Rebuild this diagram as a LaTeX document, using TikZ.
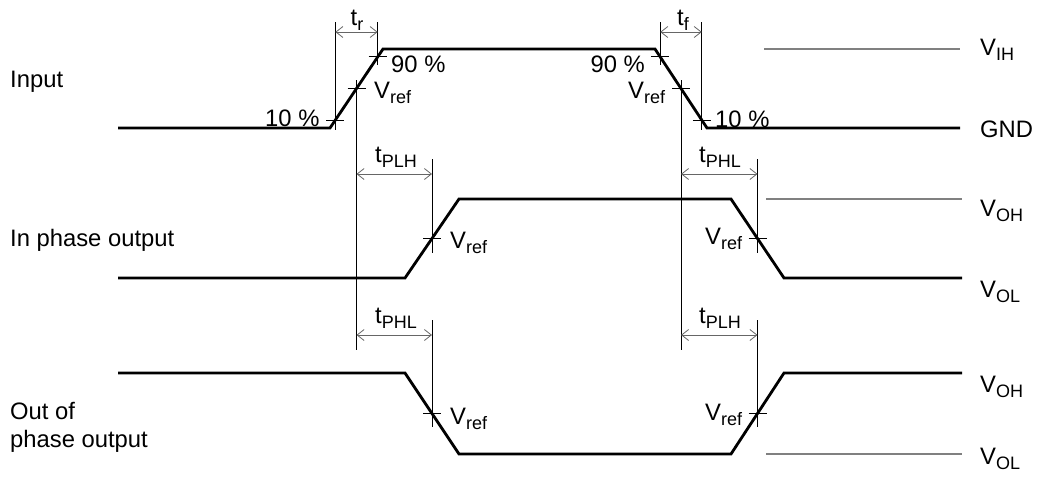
\documentclass[tikz,border=0pt]{standalone}
\usepackage{fontspec}
\setmainfont{Liberation Sans}
\usetikzlibrary{arrows.meta}
\newcommand\sbs[1]{\raisebox{-5pt}{\fontsize{18}{18}\selectfont #1}}
\begin{document}
\begin{tikzpicture}[x=1pt,y=-1pt,
 wave/.style={line width=2.8pt, line join=miter},
 guide/.style={line width=0.9pt},
 refline/.style={line width=1.3pt, draw=black!50},
 dimline/.style={line width=0.8pt, draw=black!60, {Straight Barb[length=7pt,width=11pt]}-{Straight Barb[length=7pt,width=11pt]}},
 lbl/.style={inner sep=0pt, font=\fontsize{23.8}{28}\selectfont},
 ]
\useasboundingbox (0,0) rectangle (1037,477);
% waveform points
\coordinate (i0) at (118,128); \coordinate (i1) at (330,128); \coordinate (i2) at (383,49);
\coordinate (i3) at (655,49); \coordinate (i4) at (707,128); \coordinate (i5) at (960,128);
\coordinate (m0) at (118,278); \coordinate (m1) at (405,278); \coordinate (m2) at (459,199);
\coordinate (m3) at (731,199); \coordinate (m4) at (784,278); \coordinate (m5) at (962,278);
\coordinate (b0) at (118,373); \coordinate (b1) at (405,373); \coordinate (b2) at (459,454);
\coordinate (b3) at (731,454); \coordinate (b4) at (784,373); \coordinate (b5) at (962,373);
% tick points
\coordinate (t10L) at (335.3,120.1); \coordinate (t90L) at (377.7,56.9); \coordinate (trL) at (356.5,88.5);
\coordinate (t90R) at (660.2,56.9); \coordinate (trR) at (681,88.5); \coordinate (t10R) at (701.8,120.1);
\coordinate (mrL) at (432,238.5); \coordinate (mrR) at (757.5,238.5);
\coordinate (brL) at (432,413.5); \coordinate (brR) at (757.5,413.5);
% y levels
\coordinate (y22) at (0,22); \coordinate (y32) at (0,32); \coordinate (y65) at (0,65);
\coordinate (y80) at (0,80); \coordinate (y130) at (0,130); \coordinate (y350) at (0,350);
\coordinate (y160) at (0,159); \coordinate (y174) at (0,174); \coordinate (y253) at (0,253);
\coordinate (y320) at (0,320); \coordinate (y335) at (0,335); \coordinate (y427) at (0,427);

% waveforms
\draw[wave] (i0) -- (i1) -- (i2) -- (i3) -- (i4) -- (i5);
\draw[wave] (m0) -- (m1) -- (m2) -- (m3) -- (m4) -- (m5);
\draw[wave] (b0) -- (b1) -- (b2) -- (b3) -- (b4) -- (b5);

% reference lines
\draw[refline] (764,49) coordinate (vihA) -- (960,49) coordinate (vihB);
\draw[refline] (766,199) coordinate (vohA) -- (962,199) coordinate (vohB);
\draw[refline] (766,454) coordinate (volA) -- (962,454) coordinate (volB);

% vertical guides
\draw[guide] (t10L |- y22) -- (t10L |- y130);
\draw[guide] (t90L |- y22) -- (t90L |- y65);
\draw[guide] (trL |- y80) -- (trL |- y350);
\draw[guide] (t90R |- y22) -- (t90R |- y65);
\draw[guide] (trR |- y80) -- (trR |- y350);
\draw[guide] (t10R |- y22) -- (t10R |- y130);
\draw[guide] (mrL |- y160) -- (mrL |- y253);
\draw[guide] (mrR |- y160) -- (mrR |- y253);
\draw[guide] (brL |- y320) -- (brL |- y427);
\draw[guide] (brR |- y320) -- (brR |- y427);

% horizontal tick marks
\foreach \p in {t10L,t90L,trL,t90R,trR,t10R,mrL,mrR,brL,brR}
  \draw[guide] (\p) ++(-9,0) -- ++(18,0);

% dimension arrows
\draw[dimline] (t10L |- y32) -- (t90L |- y32);
\draw[dimline] (t90R |- y32) -- (t10R |- y32);
\draw[dimline] (trL |- y174) -- (mrL |- y174);
\draw[dimline] (trR |- y174) -- (mrR |- y174);
\draw[dimline] (trL |- y335) -- (brL |- y335);
\draw[dimline] (trR |- y335) -- (brR |- y335);

% left labels
\node[lbl, anchor=base west] (lin) at (10,87) {Input};
\node[lbl, anchor=base west] (lmid) at (10,246) {In phase output};
\node[lbl, anchor=base west] (lout1) at (10,419) {Out of};
\node[lbl, anchor=base west] (lout2) at (10,447) {phase output};

% timing labels
\node[lbl, anchor=base] (ltr) at (357,25) {t\sbs{r}};
\node[lbl, anchor=base] (ltf) at (683,25) {t\sbs{f}};
\node[lbl, anchor=base] (lplh1) at (396,162) {t\sbs{PLH}};
\node[lbl, anchor=base] (lphl1) at (720,162) {t\sbs{PHL}};
\node[lbl, anchor=base] (lphl2) at (396,323) {t\sbs{PHL}};
\node[lbl, anchor=base] (lplh2) at (720,323) {t\sbs{PLH}};

% percent and Vref labels
\node[lbl, anchor=base west] (p10L) at (265,126) {10 \%};
\node[lbl, anchor=base west] (p90L) at (391,72) {90 \%};
\node[lbl, anchor=base west] (vrL) at (374,98) {V\sbs{ref}};
\node[lbl, anchor=base east] (p90R) at (645,72) {90 \%};
\node[lbl, anchor=base west] (vrR) at (628,98) {V\sbs{ref}};
\node[lbl, anchor=base west] (p10R) at (715,127) {10 \%};
\node[lbl, anchor=base west] (vmL) at (450,248) {V\sbs{ref}};
\node[lbl, anchor=base west] (vmR) at (705,244) {V\sbs{ref}};
\node[lbl, anchor=base west] (vbL) at (450,424) {V\sbs{ref}};
\node[lbl, anchor=base west] (vbR) at (705,420) {V\sbs{ref}};

% right labels
\node[lbl, anchor=base west] (rvih) at (980,55) {V\sbs{IH}};
\node[lbl, anchor=base west] (rgnd) at (980,137) {GND};
\node[lbl, anchor=base west] (rvoh1) at (980,216) {V\sbs{OH}};
\node[lbl, anchor=base west] (rvol1) at (980,297) {V\sbs{OL}};
\node[lbl, anchor=base west] (rvoh2) at (980,392) {V\sbs{OH}};
\node[lbl, anchor=base west] (rvol2) at (980,464) {V\sbs{OL}};
\end{tikzpicture}
\end{document}
